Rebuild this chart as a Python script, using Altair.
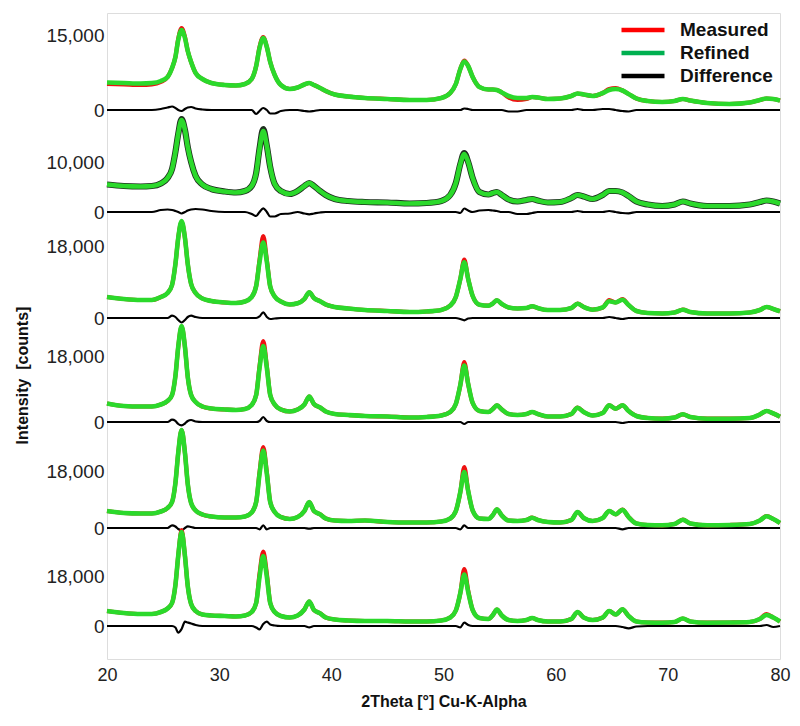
import altair as alt
import pandas as pd

# ---------------- data ----------------
two_theta = [20.0, 21.5, 23.0, 24.0, 24.8, 25.4, 25.8, 26.1, 26.35, 26.65,
             26.95, 27.2, 27.5, 27.9, 28.5, 29.3, 30.5, 31.5, 32.3, 32.9,
             33.3, 33.6, 33.93, 34.25, 34.55, 34.95, 35.5, 36.3, 37.0, 37.6,
             38.03, 38.45, 39.0, 39.5, 40.3, 41.5, 43.0, 45.0, 47.0, 48.5,
             49.8, 50.6, 51.1, 51.5, 51.85, 52.2, 52.6, 53.2, 54.0, 54.4,
             54.76, 55.2, 55.8, 56.6, 57.4, 57.9, 58.4, 59.3, 60.4, 61.4,
             61.95, 62.5, 63.3, 64.2, 64.77, 65.35, 65.96, 66.5, 67.2, 68.2,
             69.5, 70.6, 71.34, 72.0, 73.5, 75.5, 77.3, 78.2, 78.8, 79.4, 80.0]

series_names = ["Measured", "Refined", "Difference"]
panel_tick_labels = ["15,000", "10,000", "18,000", "18,000", "18,000", "18,000"]
panel_tick_values = [15000, 10000, 18000, 18000, 18000, 18000]

# panel 1
refined_1 = [5500, 5400, 5300, 5400, 5800, 6600, 8400, 10600, 14000, 16000,
             14400, 11800, 9600, 7400, 6200, 5400, 5000, 4900, 5200, 6200,
             8800, 12400, 14400, 12600, 9600, 7000, 5000, 4200, 4500, 5100,
             5400, 5000, 4400, 3800, 3100, 2700, 2400, 2200, 2000, 2000,
             2400, 3400, 5200, 8200, 9700, 8800, 6600, 4600, 4100, 4100,
             4000, 3500, 2800, 2400, 2400, 2600, 2500, 2200, 2300, 2800,
             3300, 3100, 2800, 3400, 4000, 4200, 3900, 3200, 2300, 1800,
             1600, 1800, 2200, 1900, 1400, 1200, 1500, 2000, 2300, 2200, 1900]
measured_1 = [5200, 5100, 5000, 5100, 5600, 6600, 8400, 10600, 14200, 16400,
              14600, 11800, 9600, 7400, 6200, 5400, 5000, 4900, 5200, 6200,
              8800, 12600, 14600, 12600, 9600, 7000, 5000, 4200, 4500, 5100,
              5400, 5000, 4400, 3800, 3100, 2700, 2400, 2200, 2000, 2000,
              2400, 3400, 5200, 8200, 9900, 8800, 6600, 4600, 4100, 4100,
              4000, 3500, 2500, 2000, 2200, 2600, 2500, 2200, 2300, 2800,
              3300, 3100, 2800, 3400, 4200, 4400, 3900, 3200, 2300, 1800,
              1600, 1800, 2200, 1900, 1400, 1200, 1500, 2000, 2300, 2200, 1900]
difference_1 = [0, 0, 0, 0, 200, 500, 700, 400, 0, -200,
                200, 500, 600, 300, 100, 0, 0, 0, 0, 0,
                -800, -200, 400, 0, -700, -700, -200, 0, 0, -200,
                -300, -200, 0, 0, 0, 0, 0, 0, 0, 0,
                0, 0, 0, 0, 300, 200, 0, 0, 0, 0,
                0, 0, -300, -300, 0, 0, 0, 0, 0, 0,
                200, 0, 0, 200, 200, 0, -200, -300, 0, 0,
                0, 0, 0, 0, 0, 0, 0, 0, 0, 0, 0]

# panel 2
refined_2 = [5500, 5200, 5100, 5200, 5700, 6800, 8600, 12000, 15600, 18400,
             16400, 13000, 10000, 7200, 5500, 4600, 4100, 3900, 4200, 5200,
             7800, 12600, 16200, 13200, 9000, 5600, 4200, 3600, 4200, 5200,
             5800, 5200, 4200, 3400, 2600, 2200, 2000, 1900, 1700, 1800,
             2200, 3400, 5800, 9600, 11600, 10000, 6800, 4000, 3500, 3800,
             4000, 3400, 2500, 2100, 2400, 2600, 2300, 1900, 2000, 2800,
             3400, 3100, 2600, 3400, 4200, 4200, 3900, 3200, 2100, 1500,
             1200, 1500, 2100, 1700, 1200, 1200, 1500, 2000, 2300, 2100, 1700]
measured_2 = [5500, 5200, 5100, 5200, 5700, 6800, 8600, 12000, 15600, 18600,
              16400, 13000, 10000, 7200, 5500, 4600, 4100, 3900, 4200, 5200,
              7800, 12700, 16600, 13200, 9000, 5600, 4200, 3600, 4200, 5200,
              5800, 5200, 4200, 3400, 2600, 2200, 2000, 1900, 1700, 1800,
              2200, 3400, 5800, 9600, 11800, 10000, 6800, 4000, 3500, 3800,
              4000, 3400, 2500, 2100, 2400, 2600, 2300, 1900, 2000, 2800,
              3400, 3100, 2600, 3400, 4200, 4200, 3900, 3200, 2100, 1500,
              1200, 1500, 2100, 1700, 1200, 1200, 1500, 2000, 2300, 2100, 1700]
difference_2 = [0, 0, 0, 0, 400, 500, 400, 200, 0, -300,
                0, 300, 500, 600, 500, 200, 0, 0, 0, -400,
                -800, 0, 740, 0, -900, -900, -400, -300, 0, -300,
                -460, -300, -100, 0, 0, 0, 0, 0, 0, 0,
                0, 0, 0, -200, 700, 300, 0, 300, 400, 300,
                200, 0, 0, -400, -400, -200, 0, 0, 0, 0,
                200, 0, 0, 0, 200, 0, -200, -260, 0, 0,
                0, 0, 0, 0, 0, 0, 0, 0, 0, 0, 0]

# panel 3
refined_3 = [5250, 4750, 4500, 4500, 5250, 6250, 8250, 13500, 20000, 24250,
             20000, 13500, 8500, 6250, 4880, 4250, 3880, 3750, 4130, 5250,
             8000, 14000, 18880, 14000, 7880, 5380, 4130, 3380, 3680, 4750,
             6430, 5000, 4180, 3380, 2750, 2380, 2000, 1750, 1500, 1630,
             2000, 3100, 5250, 9750, 13930, 9750, 5500, 3330, 3080, 3630,
             4430, 3500, 2630, 2380, 2500, 2930, 2500, 2000, 2000, 2500,
             3580, 2750, 2080, 2630, 4180, 3880, 4580, 3250, 1750, 1250,
             1130, 1380, 2080, 1500, 1130, 1130, 1380, 2000, 2750, 2250, 1680]
measured_3 = [5250, 4750, 4500, 4500, 5250, 6250, 8250, 13500, 20000, 24000,
              20000, 13500, 8500, 6250, 4880, 4250, 3880, 3750, 4130, 5250,
              8000, 14500, 20500, 14500, 7880, 5380, 4130, 3380, 3680, 4750,
              6430, 5000, 4180, 3380, 2750, 2380, 2000, 1750, 1500, 1630,
              2000, 3100, 5250, 9750, 14600, 9750, 5500, 3330, 3080, 3630,
              4430, 3500, 2630, 2380, 2500, 2930, 2500, 2000, 2000, 2500,
              3580, 2750, 2080, 2630, 4500, 3880, 4700, 3250, 1750, 1250,
              1130, 1380, 2080, 1500, 1130, 1130, 1380, 2000, 2750, 2250, 1680]
difference_3 = [0, 0, 0, 0, 0, 0, 580, 250, -500, -1130,
                -500, 250, 580, 250, 0, 0, 0, 0, 0, 0,
                0, 380, 1430, 250, -250, -130, 0, 0, 0, 0,
                0, 0, 0, 0, 0, 0, 0, 0, 0, 0,
                0, 0, 0, -250, -580, -130, 0, 0, 0, 0,
                0, 0, 0, 0, 0, 0, 0, 0, 0, 0,
                0, 0, 0, 0, 250, 0, -250, 0, 0, 0,
                0, 0, 0, 0, 0, 0, 0, 0, 0, 0, 0]

# panel 4
refined_4 = [5090, 4400, 4260, 4260, 4810, 5780, 7430, 12650, 20630, 26400,
             20630, 12380, 7430, 5500, 4260, 3710, 3440, 3300, 3580, 4680,
             7430, 14850, 20900, 14850, 7430, 4810, 3440, 2890, 3440, 4810,
             7010, 4950, 3990, 2890, 2200, 1930, 1650, 1510, 1240, 1380,
             1790, 2750, 4950, 10180, 15540, 10450, 5230, 3030, 2750, 3580,
             4590, 3440, 2200, 1930, 2200, 2750, 2200, 1510, 1510, 2200,
             3930, 2750, 1790, 2480, 4590, 3660, 4590, 3030, 1650, 1100,
             910, 1240, 2120, 1380, 910, 910, 1100, 2060, 3030, 2340, 1460]
measured_4 = [5090, 4400, 4260, 4260, 4810, 5780, 7430, 12650, 20630, 26260,
              20630, 12380, 7430, 5500, 4260, 3710, 3440, 3300, 3580, 4680,
              7430, 15350, 22280, 15350, 7430, 4810, 3440, 2890, 3440, 4810,
              7010, 4950, 3990, 2890, 2200, 1930, 1650, 1510, 1240, 1380,
              1790, 2750, 4950, 10180, 16500, 10450, 5230, 3030, 2750, 3580,
              4590, 3440, 2200, 1930, 2200, 2750, 2200, 1510, 1510, 2200,
              3930, 2750, 1790, 2480, 4590, 3660, 4590, 3030, 1650, 1100,
              910, 1240, 2120, 1380, 910, 910, 1100, 2060, 3030, 2340, 1460]
difference_4 = [0, 0, 0, 0, 0, 0, 630, 280, -550, -910,
                -410, 280, 550, 140, 0, 0, 0, 0, 0, 0,
                0, 280, 1380, 280, 0, 0, 0, 0, 0, 0,
                0, 0, 0, 0, 0, 0, 0, 0, 0, 0,
                0, 0, 0, 0, -550, 0, 0, 0, 0, 0,
                0, 0, 0, 0, 0, 0, 0, 0, 0, 0,
                0, 0, 0, 0, 0, 0, -280, 0, 0, 0,
                0, 0, 0, 0, 0, 0, 0, 0, 0, 0, 0]

# panel 5
refined_5 = [5440, 4800, 4640, 4640, 5280, 6400, 8320, 14400, 24000, 31360,
             24000, 14080, 8000, 5600, 4320, 3680, 3360, 3360, 3680, 4960,
             8320, 17280, 24800, 17280, 8320, 5120, 3520, 2880, 3520, 5440,
             8320, 5440, 4380, 3040, 2400, 2240, 2400, 1920, 1760, 1760,
             2080, 3040, 5440, 11520, 17920, 11840, 5600, 3040, 2880, 4160,
             5980, 4000, 2400, 2240, 2560, 3300, 2560, 1920, 1760, 2560,
             5120, 3200, 2240, 3200, 5440, 4380, 5860, 3520, 1440, 960,
             860, 1280, 2660, 1440, 860, 960, 1280, 2400, 3740, 2880, 1600]
measured_5 = [5440, 4800, 4640, 4640, 5280, 6400, 8320, 14400, 24000, 31360,
              24000, 14080, 8000, 5600, 4320, 3680, 3360, 3360, 3680, 4960,
              8320, 17820, 25920, 17820, 8320, 5120, 3520, 2880, 3520, 5440,
              8320, 5440, 4380, 3040, 2400, 2240, 2400, 1920, 1760, 1760,
              2080, 3040, 5440, 11520, 19520, 11840, 5600, 3040, 2880, 4160,
              5980, 4000, 2400, 2240, 2560, 3300, 2560, 1920, 1760, 2560,
              5120, 3200, 2240, 3200, 5440, 4380, 5860, 3520, 1440, 960,
              860, 1280, 2660, 1440, 860, 960, 1280, 2400, 3840, 2880, 1600]
difference_5 = [0, 0, 0, 0, 0, 0, 860, 480, -320, -740,
                0, 540, 320, 0, 0, 0, 0, 0, 0, 0,
                0, -420, 860, -420, 0, 0, 0, 0, 0, 0,
                -220, 0, 0, 0, 0, 0, 0, 0, 0, 0,
                0, 0, 0, -420, 860, 0, 0, 0, 0, 0,
                0, 0, 0, 0, 0, 0, 0, 0, 0, 0,
                0, 0, 0, 0, 0, 0, -420, 0, 0, 0,
                0, 0, 0, 0, 0, 0, 0, 0, 0, 0, 0]

# panel 6
refined_6 = [5400, 4680, 4320, 4320, 5040, 6300, 8280, 14760, 25200, 33840,
             25200, 14400, 7920, 5400, 4140, 3780, 3600, 3420, 3780, 5040,
             8280, 17640, 25200, 17640, 8280, 5040, 3600, 3060, 3780, 5940,
             8820, 5760, 4570, 3060, 2340, 1980, 1800, 1800, 1620, 1620,
             1980, 3060, 5580, 11880, 18540, 12240, 5760, 2880, 2520, 3960,
             5940, 3780, 2160, 1800, 2160, 2880, 2160, 1620, 1620, 2520,
             5040, 3060, 2160, 3060, 5400, 4140, 6010, 3600, 1620, 1260,
             1190, 1440, 2700, 1620, 1190, 1260, 1440, 2520, 3960, 3060, 1620]
measured_6 = [5400, 4680, 4320, 4320, 5040, 6300, 8280, 14760, 25200, 34560,
              25200, 14400, 7920, 5400, 4140, 3780, 3600, 3420, 3780, 5040,
              8280, 18760, 26820, 18760, 8280, 5040, 3600, 3060, 3780, 5940,
              8820, 5760, 4570, 3060, 2340, 1980, 1800, 1800, 1620, 1620,
              1980, 3060, 5580, 11880, 20520, 12740, 5760, 2880, 2520, 3960,
              5940, 3780, 2160, 1800, 2160, 2880, 2160, 1620, 1620, 2520,
              5040, 3060, 2160, 3060, 5400, 4140, 6010, 3600, 1620, 1260,
              1190, 1440, 2700, 1620, 1190, 1260, 1440, 2520, 4320, 3060, 1620]
difference_6 = [0, 0, 0, 0, 0, 0, 0, -540, -2410, -1080,
                1550, 1260, 900, 360, 0, 0, 0, 0, 0, 0,
                -540, -1190, 720, 1550, 540, 180, 0, 0, 0, 0,
                -470, 0, 0, 0, 0, 0, 0, 0, 0, 0,
                0, 0, 0, -470, 1190, 360, 0, 0, 0, 0,
                0, 0, 0, 0, 0, 0, 0, 0, 0, 0,
                0, 0, 0, 0, 0, 0, -360, -830, -180, 0,
                0, 0, 0, 0, 0, 0, 0, 0, 360, -360, 0]

measured = [measured_1, measured_2, measured_3, measured_4, measured_5, measured_6]
refined = [refined_1, refined_2, refined_3, refined_4, refined_5, refined_6]
difference = [difference_1, difference_2, difference_3, difference_4, difference_5, difference_6]

# ---------------- layout constants (stacking of the 6 panels) ----------------
PANEL_ZERO = [549, 447, 341, 237, 131, 33]        # baseline of each panel in plot units
PANEL_COUNTS_PER_UNIT = [200, 200, 250, 275, 320, 360]
Y_TOP = 646

rows = []
for p in range(6):
    for name, arr in zip(series_names, (measured[p], refined[p], difference[p])):
        assert len(arr) == len(two_theta)
        for t, c in zip(two_theta, arr):
            rows.append({"theta": t, "panel": p, "series": name, "counts": c})
df = pd.DataFrame(rows)

zero_js = "[" + ",".join(str(v) for v in PANEL_ZERO) + "]"
cpu_js = "[" + ",".join(str(v) for v in PANEL_COUNTS_PER_UNIT) + "]"
disp_expr = f"{zero_js}[datum.panel] + datum.counts / {cpu_js}[datum.panel]"

tick_vals = []
tick_txt = []
for p in range(6):
    tick_vals.append(float(PANEL_ZERO[p]))
    tick_txt.append("0")
    tick_vals.append(PANEL_ZERO[p] + panel_tick_values[p] / PANEL_COUNTS_PER_UNIT[p])
    tick_txt.append(panel_tick_labels[p])
label_expr = ""
for v, s in zip(tick_vals, tick_txt):
    label_expr += f"abs(datum.value - {v}) < 0.01 ? '{s}' : "
label_expr += "''"

FONT = "Liberation Sans"

x_enc = alt.X(
    "theta:Q",
    scale=alt.Scale(domain=[20, 80], nice=False, zero=False),
    axis=alt.Axis(values=[20, 30, 40, 50, 60, 70, 80], format="d", ticks=False,
                  domain=False, grid=False, labelFontSize=18, labelPadding=7,
                  labelFlush=False, labelOverlap=False, labelBound=False,
                  labelColor="#222222", labelFont=FONT,
                  title="2Theta [°] Cu-K-Alpha", titleFontSize=16,
                  titleFontWeight="bold", titleFont=FONT, titlePadding=9,
                  titleColor="#111111"),
)
y_enc = alt.Y(
    "disp:Q",
    scale=alt.Scale(domain=[0, Y_TOP], nice=False, zero=False),
    axis=alt.Axis(values=tick_vals, labelExpr=label_expr, ticks=False,
                  domain=False, grid=False, labelFontSize=19, labelPadding=3,
                  labelOverlap=False, labelFlush=False,
                  labelColor="#222222", labelFont=FONT,
                  title="Intensity\u00a0 [counts]", titleFontSize=16,
                  titleFontWeight="bold", titleFont=FONT, titleColor="#111111",
                  titleX=-85, titleY=362, titleBaseline="middle"),
)

base = alt.Chart(df).transform_calculate(disp=disp_expr)

diff_layer = base.transform_filter("datum.series == 'Difference'").mark_line(
    color="#000000", strokeWidth=2.2, interpolate="monotone", strokeJoin="round"
).encode(x=x_enc, y=y_enc, detail="panel:N")

meas_layer = base.transform_filter("datum.series == 'Measured' && datum.panel != 1").mark_line(
    color="#ee1111", strokeWidth=4.2, interpolate="monotone", strokeJoin="round"
).encode(x=x_enc, y=y_enc, detail="panel:N")

meas_dark_layer = base.transform_filter("datum.series == 'Measured' && datum.panel == 1").mark_line(
    color="#1f2f1f", strokeWidth=6.2, interpolate="monotone", strokeJoin="round"
).encode(x=x_enc, y=y_enc, detail="panel:N")

ref_layer = base.transform_filter("datum.series == 'Refined'").mark_line(
    color="#2bd92b", strokeWidth=4.6, interpolate="monotone", strokeJoin="round"
).encode(x=x_enc, y=y_enc, detail="panel:N")

legend_layer = base.transform_filter("datum.panel == 5").mark_line(opacity=0).encode(
    x=x_enc, y=y_enc, detail="panel:N",
    color=alt.Color(
        "series:N",
        scale=alt.Scale(domain=series_names, range=["#ff0000", "#00b050", "#000000"]),
        legend=alt.Legend(
            title=None, orient="top-right", offset=7, padding=0,
            symbolType="stroke", symbolStrokeWidth=4.5, symbolSize=1850,
            symbolOpacity=1, clipHeight=20, rowPadding=3, labelOffset=13,
            labelFontSize=19, labelFontWeight="bold", labelFont=FONT,
            labelColor="#111111",
        ),
    ),
)

chart = alt.layer(diff_layer, meas_layer, meas_dark_layer, ref_layer, legend_layer).properties(
    width=673, height=646,
    padding={"left": 99, "top": 5, "right": 12, "bottom": 60},
    autosize=alt.AutoSizeParams(type="none"),
).configure_view(stroke="#4a4a4a", strokeWidth=1.5).configure(font=FONT)

chart.save("out.html", embed_options={"renderer": "svg", "actions": False})
